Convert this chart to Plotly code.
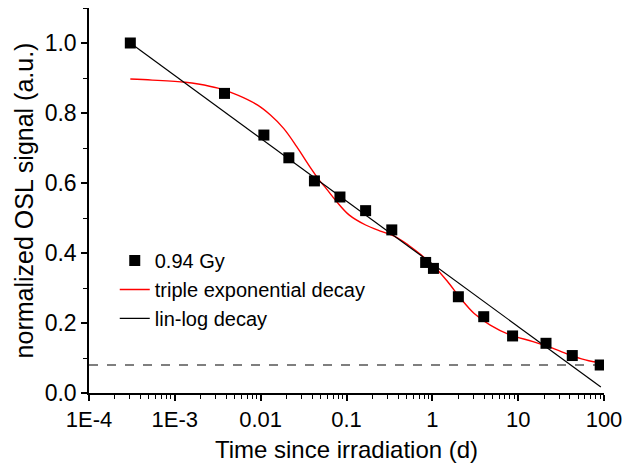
import plotly.graph_objects as go

# measured data (0.94 Gy)
time_d = [3.03e-4, 3.79e-3, 0.0109, 0.0213, 0.0423, 0.0839, 0.167, 0.337,
          0.836, 1.03, 2.01, 3.97, 8.61, 21.1, 42.7, 90.3]
signal = [1.000, 0.856, 0.737, 0.672, 0.606, 0.560, 0.521, 0.466,
          0.373, 0.356, 0.275, 0.218, 0.163, 0.142, 0.107, 0.080]

# triple exponential decay fit curve
fit_t = [3.03e-4, 5.46e-4, 1.32e-3, 1.87e-3, 3.18e-3, 5.40e-3, 9.14e-3, 0.0130,
         0.0185, 0.0263, 0.0373, 0.0486, 0.0581, 0.0755, 0.107, 0.167, 0.259,
         0.369, 0.524, 0.745, 1.06, 1.51, 2.14, 3.05, 4.73, 8.02, 14.9, 25.2,
         42.8, 66.4, 90.2]
fit_y = [0.897, 0.894, 0.888, 0.883, 0.871, 0.851, 0.823, 0.794,
         0.756, 0.704, 0.647, 0.607, 0.584, 0.549, 0.509, 0.480, 0.461,
         0.447, 0.423, 0.394, 0.361, 0.318, 0.270, 0.228, 0.194, 0.166, 0.147, 0.128,
         0.106, 0.092, 0.087]

# lin-log decay line
linlog_t = [3.03e-4, 91.9]
linlog_y = [1.0, 0.017]

# background level (dashed)
bg_t = [1e-4, 100]
bg_y = [0.08, 0.08]

xtick_vals = [1e-4, 1e-3, 1e-2, 1e-1, 1, 10, 100]
xtick_text = ["1E-4", "1E-3", "0.01", "0.1", "1", "10", "100"]

FONT = "Liberation Sans, Arial, sans-serif"

fig = go.Figure()
fig.add_trace(go.Scatter(x=bg_t, y=bg_y, mode="lines", showlegend=False,
                         line=dict(color="#555555", width=1.3, dash="dash")))
fig.add_trace(go.Scatter(x=fit_t, y=fit_y, mode="lines", name="triple exponential decay",
                         line=dict(color="#ff0000", width=1.4, shape="spline", smoothing=1),
                         legendrank=2))
fig.add_trace(go.Scatter(x=linlog_t, y=linlog_y, mode="lines", name="lin-log decay",
                         line=dict(color="#000000", width=1.2), legendrank=3))
fig.add_trace(go.Scatter(x=time_d, y=signal, mode="markers", name="0.94 Gy",
                         marker=dict(symbol="square", size=11, color="#000000"),
                         legendrank=1))

minor_vals = [m * 10 ** e for e in range(-4, 2) for m in range(2, 10)]

fig.update_layout(
    width=630, height=471,
    margin=dict(l=89, r=18, t=8, b=78),
    plot_bgcolor="white", paper_bgcolor="white",
    font=dict(family=FONT, size=22, color="black"),
    showlegend=True,
    legend=dict(x=0.05, y=0.395, xanchor="left", yanchor="top",
                bgcolor="rgba(0,0,0,0)", font=dict(size=20),
                tracegroupgap=0),
    xaxis=dict(type="log", range=[-4, 2], tickmode="array",
               tickvals=xtick_vals, ticktext=xtick_text,
               ticklabeloverflow="allow",
               showline=True, linecolor="black", linewidth=1.5,
               ticks="outside", ticklen=6, tickwidth=1.5, tickcolor="black",
               tickfont=dict(size=22),
               showgrid=False, zeroline=False,
               minor=dict(tickvals=minor_vals, ticks="outside", ticklen=4,
                          tickwidth=1, tickcolor="black", showgrid=False),
               title=dict(text="Time since irradiation (d)", font=dict(size=24), standoff=10)),
    yaxis=dict(range=[0, 1.1], tickmode="linear", tick0=0, dtick=0.2,
               tickformat=".1f", tickfont=dict(size=23),
               showline=True, linecolor="black", linewidth=1.5,
               ticks="outside", ticklen=6, tickwidth=1.5, tickcolor="black",
               showgrid=False, zeroline=False,
               minor=dict(dtick=0.1, ticks="outside", ticklen=4,
                          tickwidth=1, tickcolor="black", showgrid=False),
               title=dict(text="normalized OSL signal (a.u.)", font=dict(size=25), standoff=4)),
)

fig.write_html("out.html")
